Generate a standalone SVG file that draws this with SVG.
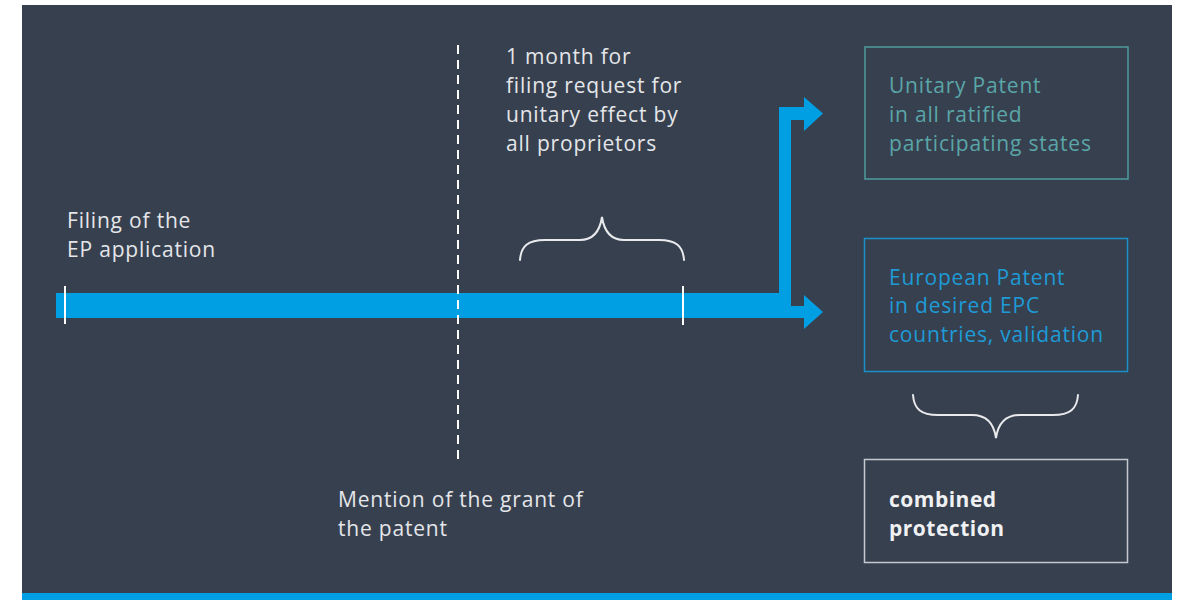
<svg xmlns="http://www.w3.org/2000/svg" width="1178" height="600" viewBox="0 0 1178 600">
<style>
text{font-family:"Open Sans","Noto Sans","Liberation Sans",sans-serif;font-size:21px;letter-spacing:0.8px}
.t{fill:#e4e6e9}
.u{fill:#5aa6a8}
.e{fill:#1e9bd7}
.b{font-weight:bold;fill:#f0f1f3;letter-spacing:0.5px}
.blue{fill:#009ee2}
.tick{stroke:#ffffff;stroke-width:2}
.brace{fill:none;stroke:#e8eaec;stroke-width:2;stroke-linecap:round}
</style>
<rect x="0" y="0" width="1178" height="600" fill="#ffffff"/>
<rect x="22" y="5" width="1150" height="589" fill="#37404f"/>
<rect x="22" y="593" width="1150" height="7" class="blue"/>
<g id="connectors">
<rect x="56" y="293" width="735" height="25" class="blue"/>
<rect x="779" y="107" width="12" height="190" class="blue"/>
<rect x="779" y="107" width="26" height="13" class="blue"/>
<polygon points="804,97 823,113.5 804,131" class="blue"/>
<rect x="790" y="306" width="15" height="12" class="blue"/>
<polygon points="804,295 823,312 804,329" class="blue"/>
<line x1="65" y1="286" x2="65" y2="324" class="tick"/>
<line x1="683" y1="286" x2="683" y2="325" class="tick"/>
<line x1="458" y1="45" x2="458" y2="460" stroke="#ffffff" stroke-width="2" stroke-dasharray="9 6"/>
<path d="M520,260 C521,246 528,240 545,240 L580,240 C594,240 600,230 602,217 C604,230 610,240 624,240 L659,240 C676,240 683,246 684,260" class="brace"/>
<path d="M913,395 C914,409 921,415 938,415 L972,415 C987,415 994,424 996,438 C998,424 1005,415 1020,415 L1053,415 C1070,415 1077,409 1078,395" class="brace"/>
</g>
<g id="filing">
<text class="t" x="67" y="228">Filing of the</text>
<text class="t" x="67" y="257">EP application</text>
</g>
<g id="month">
<text class="t" x="506" y="64">1 month for</text>
<text class="t" x="506" y="93">filing request for</text>
<text class="t" x="506" y="122">unitary effect by</text>
<text class="t" x="506" y="151">all proprietors</text>
</g>
<g id="mention">
<text class="t" x="338" y="507">Mention of the grant of</text>
<text class="t" x="338" y="536">the patent</text>
</g>
<g id="unitary">
<rect x="865" y="47" width="263" height="132" fill="none" stroke="#4f9c9f" stroke-width="1.5"/>
<text class="u" x="889" y="93">Unitary Patent</text>
<text class="u" x="889" y="122">in all ratified</text>
<text class="u" x="889" y="151">participating states</text>
</g>
<g id="european">
<rect x="864.5" y="238.5" width="263" height="133" fill="none" stroke="#1b8fc8" stroke-width="1.5"/>
<text class="e" x="889" y="285">European Patent</text>
<text class="e" x="889" y="313">in desired EPC</text>
<text class="e" x="889" y="342">countries, validation</text>
</g>
<g id="combined">
<rect x="864.5" y="459.5" width="263" height="103" fill="none" stroke="#c5c9cf" stroke-width="1.5"/>
<text class="b" x="889" y="507">combined</text>
<text class="b" x="889" y="536">protection</text>
</g>
</svg>
